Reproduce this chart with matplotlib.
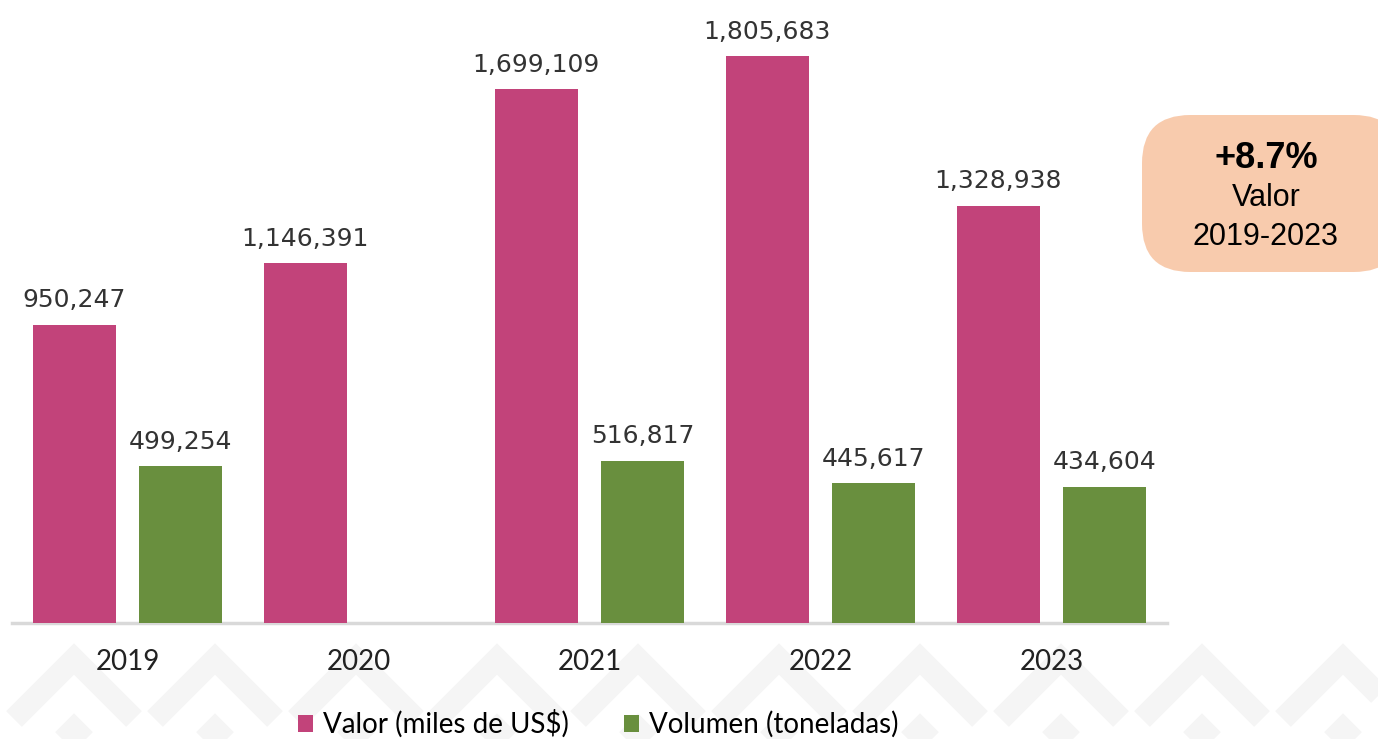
import numpy as np
import matplotlib.pyplot as plt
from matplotlib.patches import FancyBboxPatch
from matplotlib.lines import Line2D

years = ['2019', '2020', '2021', '2022', '2023']
valor = [950247, 1146391, 1699109, 1805683, 1328938]
volumen = [499254, np.nan, 516817, 445617, 434604]

PINK = '#C2437A'
GREEN = '#698F3E'
W, H = 1378, 739

fig = plt.figure(figsize=(W / 100, H / 100), dpi=100)

# faint chevron watermark along the bottom
for row_y in (659, 729):
    for px in np.arange(-67, W + 141, 141):
        xs = [(px - 60) / W, px / W, (px + 60) / W]
        ys = [1 - (row_y + 60) / H, 1 - row_y / H, 1 - (row_y + 60) / H]
        fig.add_artist(Line2D(xs, ys, color='#f5f5f5', lw=16,
                              solid_capstyle='butt', solid_joinstyle='miter', zorder=0))

ax = fig.add_axes([12 / W, 1 - 623 / H, 1155 / W, 623 / H])
ax.patch.set_alpha(0)

x = np.arange(len(years))
width = 0.36
off = 0.23
b1 = ax.bar(x - off, valor, width, color=PINK, label='Valor (miles de US$)', zorder=3)
b2 = ax.bar(x + off, volumen, width, color=GREEN, label='Volumen (toneladas)', zorder=3)

for bars, vals in [(b1, valor), (b2, volumen)]:
    for rect, v in zip(bars, vals):
        if np.isnan(v):
            continue
        ax.annotate(f'{v:,.0f}', (rect.get_x() + rect.get_width() / 2, v),
                    xytext=(0, 9), textcoords='offset points', ha='center', va='bottom',
                    fontsize=18, color='#333333', family='DejaVu Sans')

ax.set_xlim(-0.5, 4.5)
ax.set_ylim(0, 623 / 567 * 1805683)
ax.set_xticks(x)
ax.set_xticklabels(years, fontsize=20, family='Lato', color='#222222')
ax.tick_params(axis='x', length=0, pad=19)
ax.set_yticks([])
for s in ['top', 'left', 'right']:
    ax.spines[s].set_visible(False)
ax.spines['bottom'].set_color('#d9d9d9')
ax.spines['bottom'].set_linewidth(2.5)

fig.legend(handles=[b1, b2], loc='center', bbox_to_anchor=(598 / W, 1 - 724 / H),
           ncol=2, frameon=False, prop={'family': 'Lato', 'size': 20},
           handlelength=0.55, handleheight=0.55, handletextpad=0.35, columnspacing=2.0)

box = FancyBboxPatch((1142 / W, 1 - 272 / H), 260 / W, 157 / H,
                     boxstyle='round,pad=0,rounding_size=0.035',
                     transform=fig.transFigure, facecolor='#F8CBAD', edgecolor='none',
                     mutation_aspect=W / H)
fig.add_artist(box)
fig.text(1266 / W, 1 - 158 / H, '+8.7%', ha='center', va='center', fontsize=26,
         fontweight='bold', family='Liberation Sans')
fig.text(1266 / W, 1 - 198 / H, 'Valor', ha='center', va='center', fontsize=22,
         family='Liberation Sans')
fig.text(1266 / W, 1 - 237 / H, '2019-2023', ha='center', va='center', fontsize=22,
         family='Liberation Sans')

fig.savefig('out.png', dpi=100)
